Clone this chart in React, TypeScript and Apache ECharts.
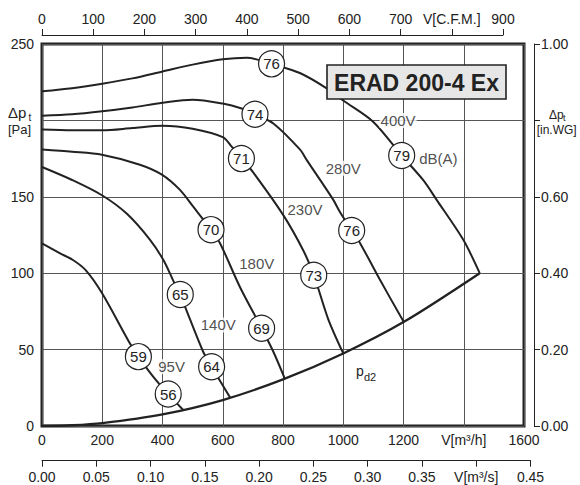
import React, { useEffect, useRef } from "react";
import * as echarts from "echarts";

// ---- data (m³/h, Pa) ----
const curve400V: number[][] = [
  [0, 219], [100, 221], [200, 224], [300, 227.5], [400, 232], [500, 236.5], [600, 240],
  [680, 241], [762, 237], [856, 231], [945, 221], [1000, 213], [1100, 199], [1194, 177],
  [1265, 161], [1310, 148], [1398, 122], [1453, 100],
];
const curve280V: number[][] = [
  [0, 203], [100, 204], [200, 206], [300, 208.5], [400, 211.5], [500, 213.5], [600, 211],
  [660, 208], [707, 204], [768, 198], [856, 181], [879, 174], [967, 148], [989, 140],
  [1028, 128], [1055, 120], [1121, 96], [1201, 68],
];
const curve230V: number[][] = [
  [0, 194], [100, 193.5], [200, 193.5], [300, 195], [400, 196.5], [500, 194.5], [600, 189],
  [629, 183], [663, 175], [701, 166], [801, 138], [867, 115], [902, 99], [950, 70], [1000, 47.5],
];
const curve180V: number[][] = [
  [0, 181], [100, 179.5], [199, 177.5], [325, 171], [398, 164.5], [458, 154.5], [502, 143.5],
  [561, 128.5], [591, 119.6], [657, 91], [729, 64], [768, 48.6], [806, 31],
];
const curve140V: number[][] = [
  [0, 169.5], [100, 161], [199, 151], [281, 139], [358, 122], [403, 108.6], [436, 95],
  [459, 86], [475, 78], [535, 48.6], [563, 38.8], [624, 18.8],
];
const curve95V: number[][] = [
  [0, 119.5], [60, 113], [104, 108.5], [145, 102], [199, 87], [292, 54], [320, 45.4],
  [369, 32.3], [419, 20.9], [469, 10.5],
];
const systemCurve: number[][] = [
  [0, 0], [100, 0.5], [200, 1.9], [400, 7.6], [600, 17], [800, 30.5], [1000, 47.5],
  [1200, 68], [1453, 100],
];
// dB(A) marks on the curves: [m³/h, Pa, label]
const dbMarks: [number, number, string][] = [
  [762, 237, "76"], [1194, 177, "79"],
  [707, 204, "74"], [1028, 128, "76"],
  [662, 175, "71"], [902, 98.6, "73"],
  [561, 128.5, "70"], [729, 64, "69"],
  [459, 86, "65"], [563, 38.8, "64"],
  [320, 45.4, "59"], [419, 20.9, "56"],
];
// curve names: [m³/h, Pa, text]
const curveNames: [number, number, string][] = [
  [1182, 200, "400V"], [1000, 168.7, "280V"], [873, 141.8, "230V"],
  [713, 106.5, "180V"], [585, 66.1, "140V"], [430, 38.8, "95V"],
  [1316, 175.2, "dB(A)"],
];
const title = "ERAD 200-4 Ex";

const FONT = "'Liberation Sans', Arial, sans-serif";
const INK = "#222";
const GRID = "#555";

export default function App() {
  const ref = useRef<HTMLDivElement>(null);
  useEffect(() => {
    if (!ref.current) return;
    const chart = echarts.init(ref.current, undefined, { renderer: "svg" });
    const lineSeries = (name: string, data: number[][], width = 2) => ({
      name,
      type: "line",
      xAxisIndex: 0,
      yAxisIndex: 0,
      data,
      smooth: 0.3,
      symbol: "none",
      lineStyle: { color: INK, width },
      z: 3,
      silent: true,
    });
    const tickLabel = { fontSize: 14, color: INK, fontFamily: FONT };
    const txt = (text: string, x: number, y: number, size: number, align = "left") => ({
      type: "text", z: 101, x, y,
      style: {
        text, font: `${size}px ${FONT}`, fill: INK,
        align, verticalAlign: "middle", textAlign: align, textVerticalAlign: "middle",
      },
    });
    const option: any = {
      animation: false,
      backgroundColor: "#fff",
      textStyle: { fontFamily: FONT },
      grid: [
        { left: 42, top: 44, width: 482, height: 382, show: true, borderColor: INK, borderWidth: 3, backgroundColor: "transparent" },
        { left: 42, top: 34, width: 461, height: 1 },
        { left: 42, top: 459.7, width: 488.5, height: 1 },
        { left: 534, top: 44, width: 1, height: 382 },
      ],
      xAxis: [
        {
          gridIndex: 0, type: "value", min: 0, max: 1600, interval: 200, position: "bottom",
          axisLine: { show: false }, axisTick: { show: false },
          axisLabel: { ...tickLabel, margin: 7, formatter: (v: number) => (v === 1400 ? "V[m³/h]" : String(v)) },
          splitLine: { show: true, lineStyle: { color: GRID, width: 1 } },
        },
        {
          gridIndex: 1, type: "value", min: 0, max: 900, interval: 100, position: "top",
          axisLine: { show: true, lineStyle: { color: INK, width: 1 } },
          axisTick: { show: true, length: 6, lineStyle: { color: INK, width: 1 } },
          axisLabel: { ...tickLabel, margin: 8, formatter: (v: number) => (v === 800 ? "V[C.F.M.]" : String(v)) },
          splitLine: { show: false },
        },
        {
          gridIndex: 2, type: "value", min: 0, max: 0.45, interval: 0.05, position: "bottom",
          axisLine: { show: true, lineStyle: { color: INK, width: 1 } },
          axisTick: { show: true, length: 6, lineStyle: { color: INK, width: 1 } },
          axisLabel: {
            ...tickLabel, margin: 9,
            formatter: (v: number) => (Math.abs(v - 0.4) < 1e-6 ? "V[m³/s]" : v.toFixed(2)),
          },
          splitLine: { show: false },
        },
        { gridIndex: 3, type: "value", min: 0, max: 1, show: false },
      ],
      yAxis: [
        {
          gridIndex: 0, type: "value", min: 0, max: 250, interval: 50,
          axisLine: { show: false }, axisTick: { show: false },
          axisLabel: { ...tickLabel, margin: 8, formatter: (v: number) => (v === 200 ? "" : String(v)) },
          splitLine: { show: true, lineStyle: { color: GRID, width: 1 } },
        },
        { gridIndex: 1, type: "value", min: 0, max: 1, show: false },
        { gridIndex: 2, type: "value", min: 0, max: 1, show: false },
        {
          gridIndex: 3, type: "value", min: 0, max: 1, interval: 0.2, position: "right",
          axisLine: { show: true, lineStyle: { color: INK, width: 1 } },
          axisTick: { show: true, length: 6, lineStyle: { color: INK, width: 1 } },
          axisLabel: {
            ...tickLabel, margin: 6,
            formatter: (v: number) => (Math.abs(v - 0.8) < 1e-6 ? "" : v.toFixed(2)),
          },
          splitLine: { show: false },
        },
      ],
      series: [
        lineSeries("400V", curve400V),
        lineSeries("280V", curve280V),
        lineSeries("230V", curve230V),
        lineSeries("180V", curve180V),
        lineSeries("140V", curve140V),
        lineSeries("95V", curve95V),
        lineSeries("pd2", systemCurve, 2.3),
        {
          type: "scatter", xAxisIndex: 0, yAxisIndex: 0, silent: true,
          data: dbMarks.map(([q, p, t]) => ({ value: [q, p], name: t })),
          symbol: "circle", symbolSize: 26,
          itemStyle: { color: "#fff", borderColor: INK, borderWidth: 1.2, opacity: 1 },
          label: { show: true, position: "inside", formatter: "{b}", fontSize: 15, color: INK, fontFamily: FONT },
          z: 5,
        },
        {
          type: "scatter", xAxisIndex: 0, yAxisIndex: 0, silent: true,
          data: curveNames.map(([q, p, t]) => ({ value: [q, p], name: t })),
          symbol: "circle", symbolSize: 0,
          label: {
            show: true, position: "inside", formatter: "{b}", fontSize: 15, color: INK, fontFamily: FONT,
            backgroundColor: "#fff", padding: [0, 1],
          },
          z: 6,
        },
      ],
      graphic: [
        {
          type: "rect", z: 100,
          shape: { x: 327, y: 65, width: 179, height: 34 },
          style: { fill: "#e6e6e6", stroke: INK, lineWidth: 1.6 },
        },
        {
          type: "text", z: 101, x: 416.5, y: 82.5,
          style: {
            text: title, font: `bold 23px ${FONT}`, fill: INK,
            align: "center", verticalAlign: "middle", textAlign: "center", textVerticalAlign: "middle",
          },
        },
        txt("Δp", 8, 112.5, 15),
        txt("t", 28.5, 117, 10),
        txt("[Pa]", 8, 129, 13),
        txt("Δp", 549, 114.5, 12),
        txt("t", 563, 117.5, 9),
        txt("[in.WG]", 556.7, 130, 12, "center"),
        txt("p", 356, 370.5, 14),
        txt("d2", 364, 377, 11),
      ],
    };
    chart.setOption(option);
    return () => chart.dispose();
  }, []);
  return <div ref={ref} style={{ width: 580, height: 485, position: "absolute", left: 0, top: 0 }} />;
}
